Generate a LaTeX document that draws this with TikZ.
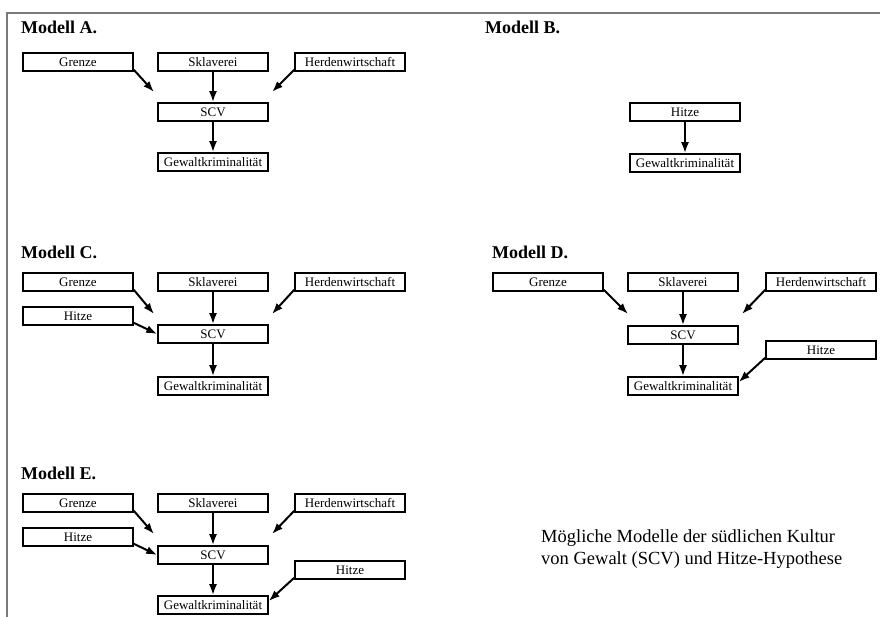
\documentclass[tikz,border=0pt]{standalone}
\usepackage{fontspec}
\setmainfont{Liberation Serif}
\usetikzlibrary{arrows.meta, positioning}
\definecolor{mdlFrame}{HTML}{7A7A7A}

\begin{document}
\begin{tikzpicture}[
    x=1pt, y=-1pt,
    box/.style={
        draw=black, line width=1.6pt, minimum width=110pt, minimum height=18pt,
        inner sep=0pt, fill=white, font=\fontsize{13}{14}\selectfont, anchor=center
    },
    ttl/.style={font=\fontsize{18}{20}\selectfont\bfseries, anchor=west, inner sep=0pt},
    arr/.style={line width=2pt, -{Latex[length=11pt,width=8pt]}}
]
\useasboundingbox (0,0) rectangle (880,617);

% === Frame ===
\draw[mdlFrame, line width=2pt] (880,13) -- (7,13) -- (7,617);

% === Modell A ===
\node[ttl] (tA) at (21,27) {Modell A.};
% Row 1: causes
\node[box] (gzA) at (78,62) {Grenze};
\node[box] (skA) at (213,62) {Sklaverei};
\node[box] (hwA) at (350,62) {Herdenwirtschaft};
% Row 2, 3
\node[box] (scvA) at (213,112) {SCV};
\node[box] (gwA) at (213,162) {Gewaltkriminalität};
\coordinate (gzendA) at (154,92);
\coordinate (hwendA) at (272,92);
\draw[arr] ([yshift=2pt]gzA.south east) -- (gzendA);
\draw[arr] (skA.south) -- (scvA.north);
\draw[arr] ([yshift=2pt]hwA.south west) -- (hwendA);
\draw[arr] (scvA.south) -- (gwA.north);

% === Modell B ===
\node[ttl] (tB) at (485,27) {Modell B.};
\node[box] (hzB) at (685,112) {Hitze};
\node[box] (gwB) at (685,163) {Gewaltkriminalität};
\draw[arr] (hzB.south) -- (gwB.north);

% === Modell C ===
\node[ttl] (tC) at (21,252) {Modell C.};
% Row 1: causes
\node[box] (gzC) at (78,282) {Grenze};
\node[box] (skC) at (213,282) {Sklaverei};
\node[box] (hwC) at (350,282) {Herdenwirtschaft};
% Row 2: Hitze + SCV
\node[box] (hzC) at (78,316) {Hitze};
\node[box] (scvC) at (213,334) {SCV};
\node[box] (gwC) at (213,386) {Gewaltkriminalität};
\coordinate (gzendC) at (154,314);
\coordinate (hwendC) at (272,314);
\draw[arr] ([yshift=2pt]gzC.south east) -- (gzendC);
\draw[arr] (skC.south) -- (scvC.north);
\draw[arr] ([yshift=2pt]hwC.south west) -- (hwendC);
\draw[arr] ([yshift=3pt]hzC.south east) -- (scvC.west);
\draw[arr] (scvC.south) -- (gwC.north);

% === Modell D ===
\node[ttl] (tD) at (492,252) {Modell D.};
% Row 1: causes
\node[box] (gzD) at (548,282) {Grenze};
\node[box] (skD) at (683,282) {Sklaverei};
\node[box] (hwD) at (821,282) {Herdenwirtschaft};
% Row 2, 3
\node[box] (scvD) at (683,335) {SCV};
\node[box] (hzD) at (821,350) {Hitze};
\node[box] (gwD) at (683,386) {Gewaltkriminalität};
\coordinate (gzendD) at (628,314);
\coordinate (hwendD) at (742,314);
\draw[arr] ([yshift=2pt]gzD.south east) -- (gzendD);
\draw[arr] (skD.south) -- (scvD.north);
\draw[arr] ([yshift=2pt]hwD.south west) -- (hwendD);
\draw[arr] (scvD.south) -- (gwD.north);
\draw[arr] ([yshift=2pt]hzD.south west) -- ([yshift=4pt]gwD.east);

% === Modell E ===
\node[ttl] (tE) at (21,473) {Modell E.};
% Row 1: causes
\node[box] (gzE) at (78,503) {Grenze};
\node[box] (skE) at (213,503) {Sklaverei};
\node[box] (hwE) at (350,503) {Herdenwirtschaft};
% Row 2: Hitze + SCV, Row 3: Hitze
\node[box] (hzE) at (78,537) {Hitze};
\node[box] (scvE) at (213,555) {SCV};
\node[box] (hz2E) at (350,570) {Hitze};
\node[box] (gwE) at (213,605) {Gewaltkriminalität};
\coordinate (gzendE) at (154,534);
\coordinate (hwendE) at (272,534);
\draw[arr] ([yshift=2pt]gzE.south east) -- (gzendE);
\draw[arr] (skE.south) -- (scvE.north);
\draw[arr] ([yshift=2pt]hwE.south west) -- (hwendE);
\draw[arr] ([yshift=3pt]hzE.south east) -- (scvE.west);
\draw[arr] (scvE.south) -- (gwE.north);
\draw[arr] ([yshift=2pt]hz2E.south west) -- ([yshift=4pt]gwE.east);

% Caption
\node[anchor=west, align=left, inner sep=0pt, font=\fontsize{18.5}{22}\selectfont]
      (cap) at (541,549) {Mögliche Modelle der südlichen Kultur\\von Gewalt (SCV) und Hitze-Hypothese};

\end{tikzpicture}
\end{document}
